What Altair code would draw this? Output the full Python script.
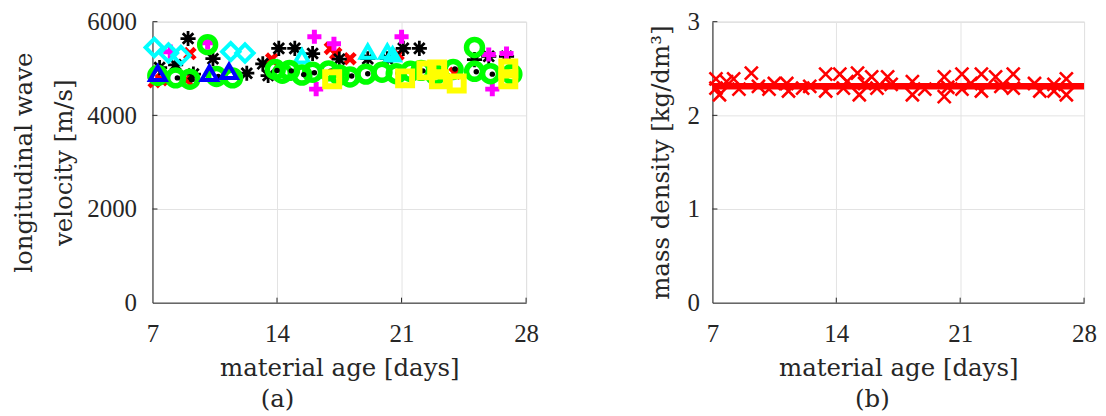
import altair as alt
import pandas as pd

# ---------------- data ----------------
x_ticks = [7, 14, 21, 28]
vel_ticks = [0, 2000, 4000, 6000]
rho_ticks = [0, 1, 2, 3]

red_x_days = [7.1, 7.5, 8.9, 9.1, 13.7, 17.0, 17.3, 18.1, 20.8, 24.0]
red_x_vals = [4720, 4760, 4760, 5320, 5200, 5430, 5320, 5210, 5300, 4900]

star_days = [7.4, 8.3, 9.0, 9.3, 10.4, 12.3, 13.2, 13.5, 14.1, 15.0, 16.0, 17.5,
             19.1, 20.2, 21.1, 22.0, 25.1, 25.9, 26.9]
star_vals = [5020, 5080, 5640, 4880, 5210, 4900, 5100, 4850, 5430, 5430, 5320, 5200,
             5210, 5210, 5430, 5430, 5190, 5260, 5260]

plus_days = [8.0, 10.1, 16.1, 16.2, 17.2, 21.0, 25.9, 26.1, 26.9]
plus_vals = [5360, 5550, 5680, 4560, 5530, 5680, 5300, 4560, 5320]

diamond_days = [7.1, 7.9, 8.6, 11.4, 12.2]
diamond_vals = [5450, 5330, 5280, 5360, 5330]

cyan_tri_days = [15.4, 19.1, 20.2, 20.5]
cyan_tri_vals = [5260, 5360, 5360, 5300]

green_days = [7.3, 8.3, 9.1, 10.1, 10.6, 11.5, 13.9, 14.3, 14.7, 15.4, 16.0, 16.9, 17.5,
              18.1, 19.0, 19.9, 20.7, 21.5, 22.1, 22.9, 23.9, 25.1, 25.1, 26.0, 27.2]
green_vals = [4850, 4800, 4770, 5510, 4830, 4800, 4980, 4900, 4960, 4860, 4920, 4950, 4860,
              4820, 4880, 4920, 4890, 4940, 4960, 4870, 4980, 5450, 4940, 4890, 4880]

dot_days = [8.4, 9.2, 10.7, 14.0, 14.8, 15.5, 16.1, 17.0, 18.2, 19.1, 20.8, 22.2, 24.0, 25.2, 26.1]
dot_vals = [4800, 4760, 4830, 4960, 4950, 4870, 4910, 4940, 4840, 4890, 4900, 4950, 4990, 4930, 4880]

square_days = [17.1, 21.2, 22.4, 23.0, 23.1, 24.1, 27.0, 27.0]
square_vals = [4770, 4790, 4960, 4980, 4770, 4680, 5000, 4770]

blue_tri_days = [7.3, 10.2, 11.3]
blue_tri_vals = [4900, 4900, 4940]

rho_days = [7.2, 7.2, 7.4, 7.8, 8.2, 8.5, 9.2, 9.6, 10.2, 10.5, 11.2, 11.3, 12.1, 12.5,
            13.4, 13.4, 14.2, 14.4, 14.6, 15.2, 15.3, 15.6, 16.0, 16.3, 16.9, 17.1,
            18.3, 18.3, 19.0, 20.1, 20.1, 20.3, 21.1, 21.1, 21.6, 22.2, 22.2, 23.0,
            23.3, 24.0, 24.0, 25.2, 25.5, 26.3, 26.3, 27.0, 27.0]
rho_vals = [2.39, 2.29, 2.22, 2.36, 2.39, 2.28, 2.45, 2.31, 2.28, 2.34, 2.34, 2.26, 2.29, 2.31,
            2.44, 2.26, 2.44, 2.29, 2.36, 2.45, 2.22, 2.34, 2.41, 2.29, 2.41, 2.33,
            2.36, 2.22, 2.28, 2.41, 2.20, 2.30, 2.44, 2.28, 2.34, 2.44, 2.26, 2.41,
            2.31, 2.44, 2.29, 2.34, 2.26, 2.33, 2.26, 2.39, 2.22]

fit_days = [7, 28]
fit_vals = [2.31, 2.31]

# ---------------- styling ----------------
LABEL_FONT = "Liberation Serif"
TITLE_FONT = "DejaVu Serif"
INK = "#262626"
W1, W2, H = 375, 373, 282
TFS = 24.5

ASTERISK = "M-1,0L1,0M0,-1L0,1M-0.7,-0.7L0.7,0.7M-0.7,0.7L0.7,-0.7"
PLUS = "M-1,0L1,0M0,-1L0,1"
XMARK = "M-1,-1L1,1M-1,1L1,-1"

xscale = alt.Scale(domain=[7, 28], nice=False, zero=False)
vscale = alt.Scale(domain=[0, 6000], nice=False)
rscale = alt.Scale(domain=[0, 3], nice=False)


def xaxis():
    return alt.Axis(values=x_ticks, title="material age [days]", labelPadding=19,
                    titlePadding=10, grid=True, format="d", labelFlush=False)


def pts(days, vals, yscale, yaxis, shape, color, size, sw, filled=False):
    df = pd.DataFrame({"day": days, "v": vals})
    props = dict(shape=shape, size=size, strokeWidth=sw, filled=filled, opacity=1)
    if filled:
        props["color"] = color
    else:
        props["stroke"] = color
        props["fill"] = "transparent"
    return alt.Chart(df).mark_point(**props).encode(
        x=alt.X("day:Q", scale=xscale, axis=xaxis()),
        y=alt.Y("v:Q", scale=yscale, axis=yaxis),
    )


def vel_axis():
    return alt.Axis(values=vel_ticks, title=["longitudinal wave", "velocity [m/s]"],
                    labelPadding=16, titlePadding=10, titleLineHeight=40, grid=True,
                    format="d", labelFlush=False)


def rho_axis():
    return alt.Axis(values=rho_ticks, title="mass density [kg/dm³]",
                    labelPadding=13, titlePadding=14, grid=True, format="d", labelFlush=False)


def inward_ticks(yscale, yaxis, yticks):
    bx = alt.Chart(pd.DataFrame({"t": x_ticks[1:]})).mark_rule(color=INK, strokeWidth=1).encode(
        x=alt.X("t:Q", scale=xscale, axis=xaxis()), y=alt.value(H), y2=alt.value(H - 5))
    ly = alt.Chart(pd.DataFrame({"t": yticks[1:]})).mark_rule(color=INK, strokeWidth=1).encode(
        y=alt.Y("t:Q", scale=yscale, axis=yaxis), x=alt.value(0), x2=alt.value(5))
    return [bx, ly]


left_layers = inward_ticks(vscale, vel_axis(), vel_ticks) + [
    pts(red_x_days, red_x_vals, vscale, vel_axis(), XMARK, "#ff0000", 110, 4.5),
    pts(star_days, star_vals, vscale, vel_axis(), ASTERISK, "#000000", 230, 2.8),
    pts(plus_days, plus_vals, vscale, vel_axis(), PLUS, "#ff00ff", 200, 5),
    pts(diamond_days, diamond_vals, vscale, vel_axis(), "diamond", "#00ffff", 300, 4),
    pts(cyan_tri_days, cyan_tri_vals, vscale, vel_axis(), "triangle-up", "#00ffff", 200, 4),
    pts(green_days, green_vals, vscale, vel_axis(), "circle", "#00ff00", 256, 5.5),
    pts(dot_days, dot_vals, vscale, vel_axis(), "circle", "#000000", 30, 0, filled=True),
    pts(square_days, square_vals, vscale, vel_axis(), "square", "#ffff00", 196, 6),
    pts(blue_tri_days, blue_tri_vals, vscale, vel_axis(), "triangle-up", "#0000ff", 240, 4),
]

left = alt.layer(*left_layers).properties(
    width=W1, height=H,
    title=alt.TitleParams("(a)", orient="bottom", anchor="middle", dx=-62, offset=8,
                          font=TITLE_FONT, fontSize=TFS, fontWeight="normal", color=INK),
)

fit = alt.Chart(pd.DataFrame({"day": fit_days, "v": fit_vals})).mark_line(
    color="#ff0000", strokeWidth=6.5).encode(
    x=alt.X("day:Q", scale=xscale, axis=xaxis()),
    y=alt.Y("v:Q", scale=rscale, axis=rho_axis()))

right_layers = inward_ticks(rscale, rho_axis(), rho_ticks) + [
    pts(rho_days, rho_vals, rscale, rho_axis(), XMARK, "#ff0000", 170, 2.6),
    fit,
]

right = alt.layer(*right_layers).properties(
    width=W2, height=H,
    title=alt.TitleParams("(b)", orient="bottom", anchor="middle", dx=-26, offset=8,
                          font=TITLE_FONT, fontSize=TFS, fontWeight="normal", color=INK),
)

chart = alt.hconcat(left, right, spacing=108).properties(
    padding={"left": 3, "top": 0, "right": 0, "bottom": 0}
).configure(background="white").configure_view(stroke="#d0d0d0", strokeWidth=1).configure_axis(
    labelFont=LABEL_FONT, labelFontSize=25, labelColor=INK,
    titleFont=TITLE_FONT, titleFontSize=TFS, titleFontWeight="normal", titleColor=INK,
    domainColor=INK, domainWidth=1, tickSize=0, gridColor="#e3e3e3", gridWidth=1,
)

chart.save("out.html", embed_options={"renderer": "svg", "actions": False})
